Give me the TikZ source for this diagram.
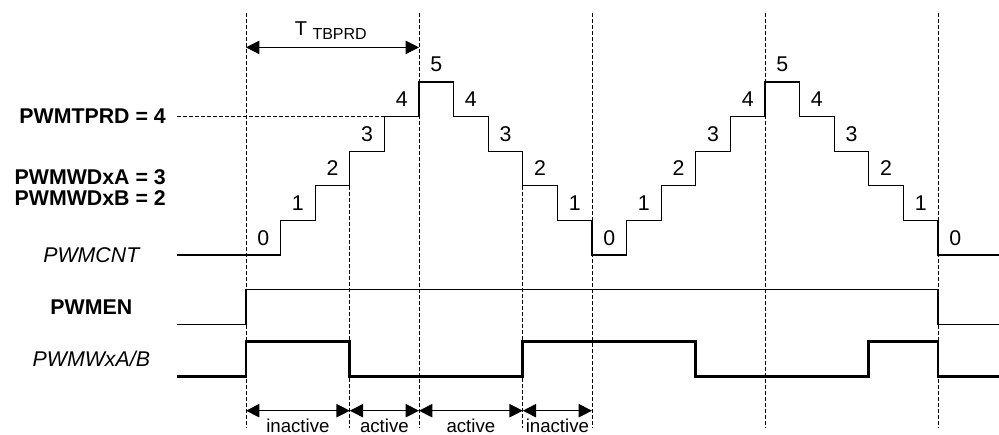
\documentclass[tikz,border=0pt]{standalone}
\usepackage{fontspec}
\setmainfont{Liberation Sans}
\usepackage{tikz}
\usetikzlibrary{arrows.meta,calc,positioning}
\tikzset{sig/.style={line width=.9pt},pwm/.style={line width=2.2pt},guide/.style={line width=.6pt,dash pattern=on 3pt off 1.5pt},dim/.style={{Triangle[length=10pt,width=10pt]}-{Triangle[length=10pt,width=10pt]},line width=.8pt},num/.style={font=\fontsize{16}{19}\selectfont,inner sep=0pt},boldlbl/.style={font=\fontsize{16}{19}\selectfont\bfseries,inner sep=0pt},itlbl/.style={font=\fontsize{16}{19}\selectfont\itshape,inner sep=0pt},phase/.style={font=\fontsize{14}{17}\selectfont,inner sep=0pt}}
\begin{document}
\begin{tikzpicture}[x=25.95pt,y=25.95pt]
        \useasboundingbox(-7.11,-5.202)rectangle(21.763,7.37);
        \foreach \g/\t in {0/7,3/2,5/7,8/2,10/7,15/7,20/7}
          \draw[guide](\g,\t)coordinate(g\g)--(\g,-5)coordinate(b\g);
        \node[boldlbl,anchor=east](prd)at(-2.31,4){PWMTPRD = 4};
        \node[boldlbl,anchor=east](wda)at(-2.31,2.26){PWMWDxA = 3};
        \node[boldlbl,anchor=east](wdb)at(-2.31,1.65){PWMWDxB = 2};
        \draw[guide](-2,4)coordinate(prdl)--(4,4)coordinate(prdr);
        \draw[sig](-2,0)--(1,0)|-(2,1)|-(3,2)|-(4,3)|-(5,4)|-(6,5)|-(7,4)|-(8,3)|-(9,2)|-(10,1)|-(11,0)|-(12,1)|-(13,2)|-(14,3)|-(15,4)|-(16,5)|-(17,4)|-(18,3)|-(19,2)|-(20,1)|-(21.763,0);
        \foreach \v [count=\i from 0] in {0,1,2,3,4,5,4,3,2,1,0,1,2,3,4,5,4,3,2,1,0}
          \node[num](c\i)at(\i+.5,\v+.5){\v};
        \node[itlbl](cnt)at(-4.47,0){PWMCNT};
        \node[boldlbl](en)at(-4.47,-1.5){PWMEN};
        \node[itlbl](out)at(-4.47,-3){PWMWxA/B};
        \draw[sig](-2,-2)--(0,-2)--(0,-1)--(20,-1)--(20,-2)--(21.763,-2);
        \draw[pwm](-2,-3.5)-|(0,-2.5)-|(3,-3.5)-|(8,-2.5)-|(13,-3.5)-|(18,-2.5)-|(20,-3.5)--(21.763,-3.5);
        \coordinate(t0)at(0,6);
        \coordinate(t5)at(5,6);
        \draw[dim](t0)--(t5);
        \node[anchor=base,inner sep=0pt,font=\fontsize{15}{18}\selectfont](tb)at(2.45,6.33){T\ \raisebox{-3pt}{\fontsize{12}{14}\selectfont TBPRD}};
        \foreach \g in {0,3,5,8,10}
          \coordinate(d\g)at(\g,-4.5);
        \draw[dim](d0)--(d3);
        \draw[dim](d3)--(d5);
        \draw[dim](d5)--(d8);
        \draw[dim](d8)--(d10);
        \node[phase](ph1)at(1.5,-4.93){inactive};
        \node[phase](ph2)at(4,-4.93){active};
        \node[phase](ph3)at(6.5,-4.93){active};
        \node[phase](ph4)at(9,-4.93){inactive};
      \end{tikzpicture}
\end{document}
